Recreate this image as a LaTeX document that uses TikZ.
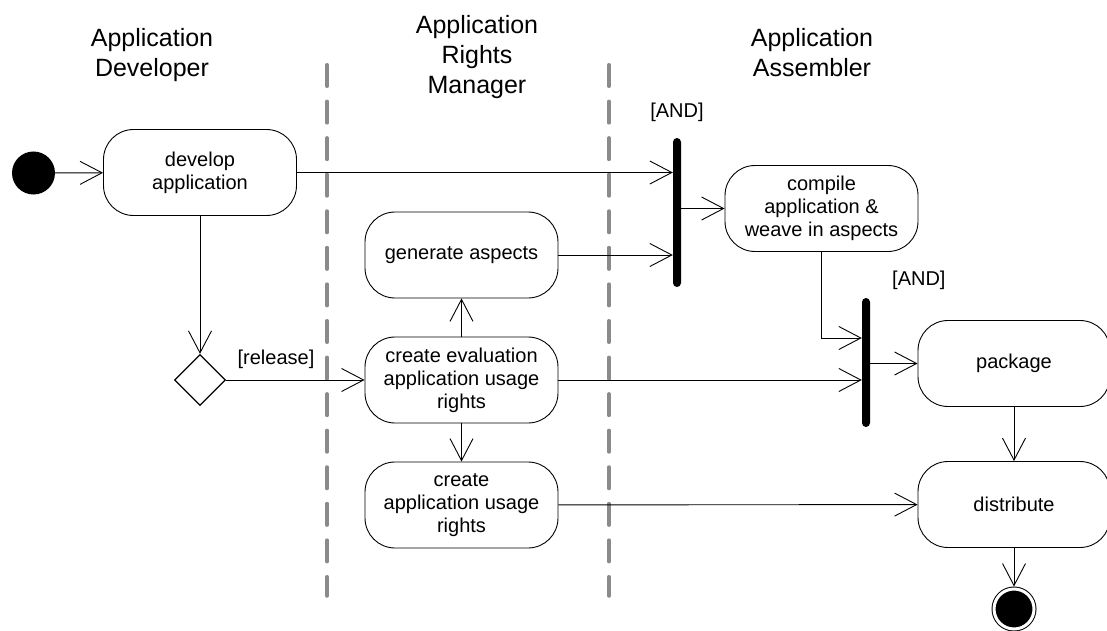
\documentclass[tikz,border=0pt]{standalone}
\usepackage{fontspec}
\setmainfont{Liberation Sans}
\usepackage{tikz}
\usetikzlibrary{arrows.meta,positioning,shapes.geometric}
\definecolor{lanegray}{HTML}{8A8A8A}
\tikzset{
  actbox/.style={draw,line width=0.9pt,rounded corners=30pt,minimum width=193pt,
    minimum height=86pt,align=center,inner sep=2pt,font=\fontsize{20}{23}\selectfont},
  lanehead/.style={anchor=north,align=center,inner sep=0pt,font=\fontsize{25}{30}\selectfont},
  guard/.style={inner sep=0pt,font=\fontsize{20}{23}\selectfont},
  syncbar/.style={fill=black,rectangle,rounded corners=4pt,minimum width=8pt,inner sep=0pt},
  decision/.style={diamond,draw,line width=1.3pt,minimum width=51pt,minimum height=51pt,inner sep=0pt},
  startdot/.style={circle,fill=black,minimum size=43pt,inner sep=0pt},
  enddot/.style={circle,draw,fill=black,line width=1pt,double=white,double distance=3pt,
    minimum size=40pt,inner sep=0pt,outer sep=2.5pt},
  flow/.style={line width=0.9pt,-{Straight Barb[length=22pt,width=23pt]}},
  lane/.style={draw=lanegray,line width=3.5pt,line cap=round,dash pattern=on 21.5pt off 15.07pt}
}
\begin{document}
\begin{tikzpicture}[x=1pt,y=-1pt]
\useasboundingbox (0,0) rectangle (1107,631);
% swimlane separators
\draw[lane] (327,64.75) -- (327,596);
\draw[lane] (609,64.75) -- (609,596);
% lane headings
\node[lanehead] (hdev) at (152,28) {Application\\Developer};
\node[lanehead] (hrm) at (477,15) {Application\\Rights\\Manager};
\node[lanehead] (hasm) at (812,28) {Application\\Assembler};
% activities
\node[startdot] (start) at (33.5,173) {};
\node[actbox] (dev) at (200,172.5) {develop\\application};
\node[decision] (rel) at (200,380) {};
\node[actbox] (gen) at (461.5,255) {generate aspects};
\node[actbox] (evalr) at (461.5,380) {create evaluation\\application usage\\rights};
\node[actbox] (usage) at (461.5,505) {create\\application usage\\rights};
\node[syncbar,minimum height=149pt] (join1) at (677,212.5) {};
\node[guard,above=16pt of join1.north] (and1) {[AND]};
\node[actbox] (comp) at (821.5,208.5) {compile\\application \&\\weave in aspects};
\node[syncbar,minimum height=129pt] (join2) at (866,362.5) {};
\node[guard,above right=8pt and 26pt of join2.north] (and2) {[AND]};
\node[actbox,minimum width=192pt] (pack) at (1014,363.5) {package};
\node[actbox,minimum width=192pt] (dist) at (1014,504.5) {distribute};
\node[enddot] (stop) at (1014,609) {};
% transitions
\draw[flow] (start) -- (dev);
\draw[flow] (dev.east) -- (dev.east -| join1.west);
\draw[flow] (gen.east) -- (gen.east -| join1.west);
\draw[flow] (join1.east |- comp.west) -- (comp.west);
\draw[flow] (comp.south) |- ([yshift=24.5pt]join2.west);
\draw[flow] (evalr.east) -- (evalr.east -| join2.west);
\draw[flow] (join2.east |- pack.west) -- (pack.west);
\draw[flow] (dev) -- (rel);
\draw[flow] (rel) -- node[guard,pos=0.36,above=11pt] (relguard) {[release]} (evalr);
\draw[flow] (evalr) -- (gen);
\draw[flow] (evalr) -- (usage);
\draw[flow] (usage) -- (dist);
\draw[flow] (pack) -- (dist);
\draw[flow] (dist) -- (stop);
\end{tikzpicture}
\end{document}
